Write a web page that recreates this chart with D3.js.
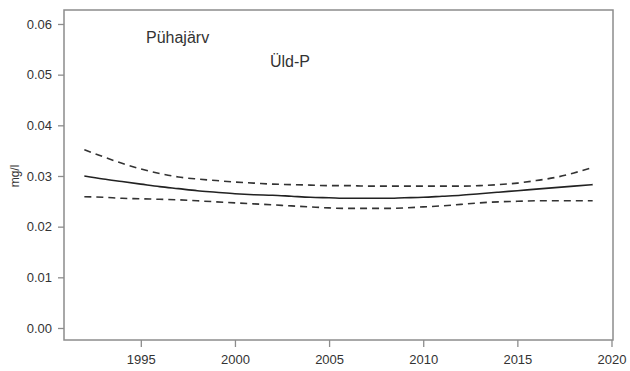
<!DOCTYPE html>
<html>
<head>
<meta charset="utf-8">
<script src="https://cdn.jsdelivr.net/npm/d3@7"></script>
<style>
  html, body { margin: 0; padding: 0; background: #fff; }
  svg { display: block; font-family: Arial, "Liberation Sans", sans-serif; }
</style>
</head>
<body>
<svg id="chart" width="630" height="371"></svg>
<script>
// Trend of total phosphorus (Üld-P) in Pühajärv, with confidence band
const years = d3.range(1992, 2020);
const fit = [0.0300, 0.0294, 0.0289, 0.0284, 0.0279, 0.0275, 0.0271, 0.0268, 0.0265, 0.0263,
             0.0262, 0.0260, 0.0258, 0.0257, 0.0256, 0.0256, 0.0256, 0.0257, 0.0258, 0.0260,
             0.0262, 0.0265, 0.0268, 0.0271, 0.0274, 0.0277, 0.0280, 0.0283];
const upper = [0.0352, 0.0338, 0.0325, 0.0314, 0.0305, 0.0298, 0.0294, 0.0291, 0.0288, 0.0286,
               0.0284, 0.0283, 0.0282, 0.0281, 0.0281, 0.0280, 0.0280, 0.0280, 0.0280, 0.0280,
               0.0280, 0.0281, 0.0283, 0.0286, 0.0291, 0.0297, 0.0306, 0.0317];
const lower = [0.0259, 0.0258, 0.0256, 0.0255, 0.0254, 0.0253, 0.0251, 0.0249, 0.0247, 0.0245,
               0.0243, 0.0241, 0.0239, 0.0237, 0.0236, 0.0236, 0.0236, 0.0237, 0.0239, 0.0241,
               0.0244, 0.0247, 0.0249, 0.0250, 0.0251, 0.0251, 0.0251, 0.0251];
const xTicks = [1995, 2000, 2005, 2010, 2015, 2020];
const yTicks = [0.00, 0.01, 0.02, 0.03, 0.04, 0.05, 0.06];
const lakeName = "Pühajärv";
const variableName = "Üld-P";
const unitLabel = "mg/l";

const svg = d3.select("#chart");
const axisColor = "#8c8c8c";
const textColor = "#333";

const x = d3.scaleLinear().domain([1990.92, 2020.08]).range([64, 613]);
const y = d3.scaleLinear().domain([-0.00237, 0.06276]).range([340, 10]);

// plot frame
svg.append("rect")
  .attr("x", x.range()[0]).attr("y", y.range()[1])
  .attr("width", x.range()[1] - x.range()[0])
  .attr("height", y.range()[0] - y.range()[1])
  .attr("fill", "none").attr("stroke", axisColor).attr("stroke-width", 1.5);

// axes
const xAxis = svg.append("g")
  .attr("transform", `translate(0,${y.range()[0]})`)
  .call(d3.axisBottom(x).tickValues(xTicks).tickFormat(d3.format("d")).tickSize(7).tickPadding(8));
const yAxis = svg.append("g")
  .attr("transform", `translate(${x.range()[0]},0)`)
  .call(d3.axisLeft(y).tickValues(yTicks).tickFormat(d3.format(".2f")).tickSize(6).tickPadding(6));

[xAxis, yAxis].forEach(g => {
  g.select(".domain").remove();
  g.selectAll(".tick line").attr("stroke", axisColor).attr("stroke-width", 1.3);
  g.selectAll(".tick text").attr("fill", textColor).attr("font-size", 13)
    .attr("font-family", "Arial, 'Liberation Sans', sans-serif");
});

// curves
const line = d3.line().x((d, i) => x(years[i])).y(d => y(d)).curve(d3.curveMonotoneX);

svg.append("path").datum(upper).attr("d", line)
  .attr("fill", "none").attr("stroke", "#333").attr("stroke-width", 1.6)
  .attr("stroke-dasharray", "7,5");
svg.append("path").datum(lower).attr("d", line)
  .attr("fill", "none").attr("stroke", "#333").attr("stroke-width", 1.6)
  .attr("stroke-dasharray", "7,5");
svg.append("path").datum(fit).attr("d", line)
  .attr("fill", "none").attr("stroke", "#222").attr("stroke-width", 1.6);

// labels
svg.append("text")
  .attr("transform", `translate(19,${y(0.03)}) rotate(-90)`)
  .attr("text-anchor", "middle").attr("font-size", 12).attr("fill", textColor)
  .text(unitLabel);
svg.append("text")
  .attr("x", 146).attr("y", 43)
  .attr("font-size", 16).attr("fill", textColor)
  .text(lakeName);
svg.append("text")
  .attr("x", 270).attr("y", 67)
  .attr("font-size", 16).attr("fill", textColor)
  .text(variableName);
</script>
</body>
</html>
